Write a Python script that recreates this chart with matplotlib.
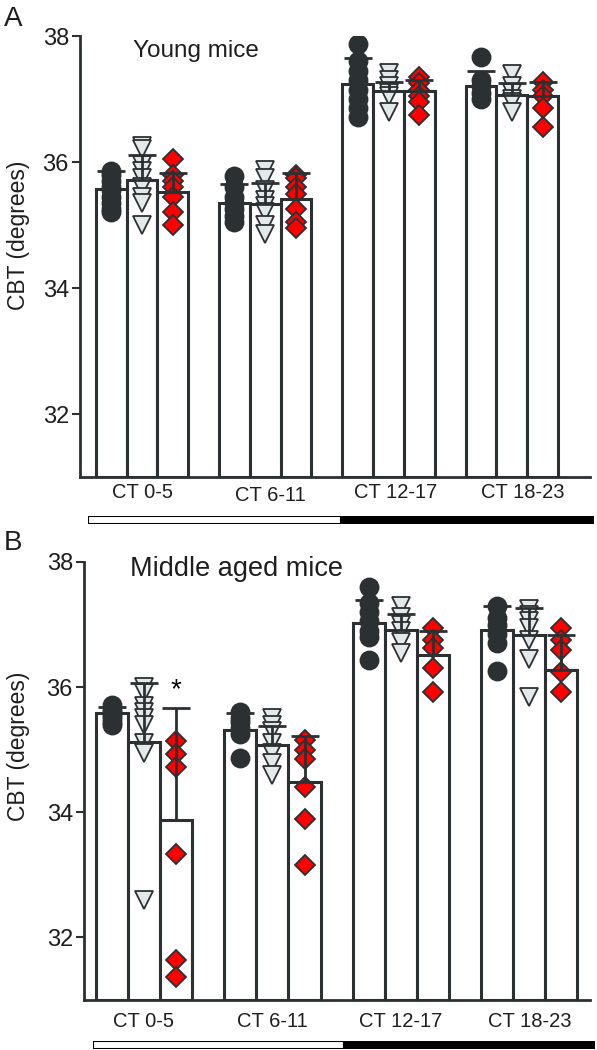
import matplotlib
matplotlib.use('Agg')
import matplotlib.pyplot as plt
import numpy as np
from matplotlib.patches import Rectangle

plt.rcParams['font.family'] = ['Liberation Sans', 'DejaVu Sans']

groups = ['CT 0-5', 'CT 6-11', 'CT 12-17', 'CT 18-23']

# Panel A - young mice : bar means, upper error (SD), individual points
young_circ_mean = [35.57, 35.35, 37.24, 37.21]
young_circ_err = [0.29, 0.30, 0.41, 0.24]
young_circ_pts = [
    [35.85, 35.8, 35.7, 35.6, 35.55, 35.45, 35.35, 35.25, 35.2],
    [35.78, 35.6, 35.45, 35.35, 35.25, 35.15, 35.05],
    [37.88, 37.6, 37.45, 37.3, 37.15, 37.0, 36.85, 36.72],
    [37.67, 37.3, 37.2, 37.1, 37.0],
]
young_tri_mean = [35.72, 35.33, 37.12, 37.06]
young_tri_err = [0.39, 0.34, 0.15, 0.19]
young_tri_pts = [
    [36.25, 36.2, 35.95, 35.85, 35.75, 35.6, 35.45, 35.35, 35.0],
    [35.88, 35.75, 35.55, 35.4, 35.3, 35.2, 35.0, 34.85],
    [37.42, 37.3, 37.2, 37.1, 37.05, 36.8],
    [37.4, 37.2, 37.1, 37.0, 36.95, 36.8],
]
young_dia_mean = [35.52, 35.42, 37.13, 37.04]
young_dia_err = [0.31, 0.40, 0.17, 0.23]
young_dia_pts = [
    [36.05, 35.8, 35.7, 35.6, 35.45, 35.2, 35.0],
    [35.8, 35.75, 35.6, 35.5, 35.25, 35.05, 34.95],
    [37.35, 37.25, 37.15, 37.05, 36.95, 36.75],
    [37.27, 37.15, 37.05, 36.85, 36.55],
]

# Panel B - middle aged mice
mid_circ_mean = [35.58, 35.31, 37.03, 36.92]
mid_circ_err = [0.11, 0.27, 0.37, 0.37]
mid_circ_pts = [
    [35.72, 35.65, 35.6, 35.55, 35.5, 35.45, 35.4],
    [35.6, 35.5, 35.45, 35.35, 35.25, 34.87],
    [37.6, 37.35, 37.2, 37.05, 36.9, 36.8, 36.43],
    [37.3, 37.1, 37.0, 36.85, 36.7, 36.25],
]
mid_tri_mean = [35.13, 35.08, 36.92, 36.84]
mid_tri_err = [0.93, 0.30, 0.25, 0.42]
mid_tri_pts = [
    [36.0, 35.9, 35.7, 35.6, 35.5, 35.4, 35.1, 34.95, 32.6],
    [35.5, 35.4, 35.3, 35.1, 34.95, 34.78, 34.6],
    [37.3, 37.12, 37.0, 36.9, 36.72, 36.55],
    [37.25, 37.15, 37.05, 36.95, 36.75, 36.45, 35.85],
]
mid_dia_mean = [33.87, 34.49, 36.51, 36.28]
mid_dia_err = [1.79, 0.73, 0.39, 0.56]
mid_dia_pts = [
    [35.14, 34.93, 34.72, 33.33, 31.64, 31.36],
    [35.15, 35.0, 34.85, 34.4, 33.9, 33.15],
    [36.94, 36.75, 36.62, 36.3, 35.92],
    [36.94, 36.75, 36.59, 36.24, 35.92],
]

dark = '#2b3033'
txt = '#1e1e1e'
W = 0.25
fig = plt.figure(figsize=(5.97, 10.5), dpi=100)


def draw_panel(ax, series, xlim):
    x = np.arange(len(groups))
    offsets = [-W, 0, W]
    styles = [
        dict(marker='o', ms=13, mfc=dark, mec=dark),
        dict(marker='v', ms=12.5, mfc='#e3e8e8', mec=dark),
        dict(marker='D', ms=10.5, mfc='#ff0000', mec=dark),
    ]
    for (mean, err, pts), off, st in zip(series, offsets, styles):
        xs = x + off
        ax.bar(xs, np.array(mean) - 31, W, bottom=31, color='white',
               edgecolor=dark, linewidth=2.2, zorder=2)
        for xi, p in zip(xs, pts):
            ax.plot([xi] * len(p), p, linestyle='none', mew=1.3, zorder=3, **st)
        ax.errorbar(xs, mean, yerr=[np.zeros(len(mean)), err], fmt='none',
                    ecolor=dark, elinewidth=2.0, capsize=10, capthick=2.0, zorder=4)
    ax.set_xlim(*xlim)
    ax.set_ylim(31, 38)
    ax.set_yticks([32, 34, 36, 38])
    ax.tick_params(axis='y', direction='out', length=6, width=1.5, colors=dark,
                   labelsize=17, labelcolor=txt, pad=2)
    ax.tick_params(axis='x', length=0)
    ax.set_xticks([])
    for s in ['top', 'right']:
        ax.spines[s].set_visible(False)
    for s in ['left', 'bottom']:
        ax.spines[s].set_linewidth(2.0)
        ax.spines[s].set_color(dark)
    ax.set_ylabel('CBT (degrees)', fontsize=16.5, color=txt)


def light_dark(rect):
    bx = fig.add_axes(rect)
    bx.add_patch(Rectangle((0, 0), 0.5, 1, facecolor='white', edgecolor='black', lw=1.5))
    bx.add_patch(Rectangle((0.5, 0), 0.5, 1, facecolor='black', edgecolor='black', lw=1.5))
    bx.set_xlim(0, 1)
    bx.set_ylim(0, 1)
    bx.axis('off')


# panel A
axA = fig.add_axes([0.134, 0.5457, 0.854, 0.42])
draw_panel(axA, [(young_circ_mean, young_circ_err, young_circ_pts),
                 (young_tri_mean, young_tri_err, young_tri_pts),
                 (young_dia_mean, young_dia_err, young_dia_pts)], (-0.503, 3.633))
axA.yaxis.set_label_coords(-0.098, 0.549)
labA_x = [0, 1.04, 2.06, 3.09]
labA_dy = [0, -3, 0, 0]
for lx, dy, g in zip(labA_x, labA_dy, groups):
    axA.annotate(g, xy=(lx, 0), xycoords=('data', 'axes fraction'),
                 xytext=(0, -15 + dy), textcoords='offset pixels',
                 ha='center', va='center', fontsize=14.5, color=txt)
axA.text(0.228, 0.967, 'Young mice', transform=axA.transAxes, ha='center',
         va='center', fontsize=17.5, color=txt)
light_dark([88 / 597, 1 - 524 / 1050, 506 / 597, 8 / 1050])
fig.text(4 / 597, 1 - 19 / 1050, 'A', fontsize=20, va='center', ha='left', color=txt)

# panel B
axB = fig.add_axes([0.1407, 0.0476, 0.847, 0.4172])
draw_panel(axB, [(mid_circ_mean, mid_circ_err, mid_circ_pts),
                 (mid_tri_mean, mid_tri_err, mid_tri_pts),
                 (mid_dia_mean, mid_dia_err, mid_dia_pts)], (-0.467, 3.47))
axB.yaxis.set_label_coords(-0.107, 0.58)
for lx, g in zip(range(4), groups):
    axB.annotate(g, xy=(lx, 0), xycoords=('data', 'axes fraction'),
                 xytext=(0, -21), textcoords='offset pixels',
                 ha='center', va='center', fontsize=14.5, color=txt)
axB.text(0.302, 0.985, 'Middle aged mice', transform=axB.transAxes, ha='center',
         va='center', fontsize=19.5, color=txt)
axB.text(W, 35.95, '*', ha='center', va='center', fontsize=20, color='black')
light_dark([93 / 597, 1 - 1049 / 1050, 502 / 597, 8 / 1050])
fig.text(4 / 597, 1 - 543 / 1050, 'B', fontsize=20, va='center', ha='left', color=txt)

fig.savefig('out.png', dpi=100)
